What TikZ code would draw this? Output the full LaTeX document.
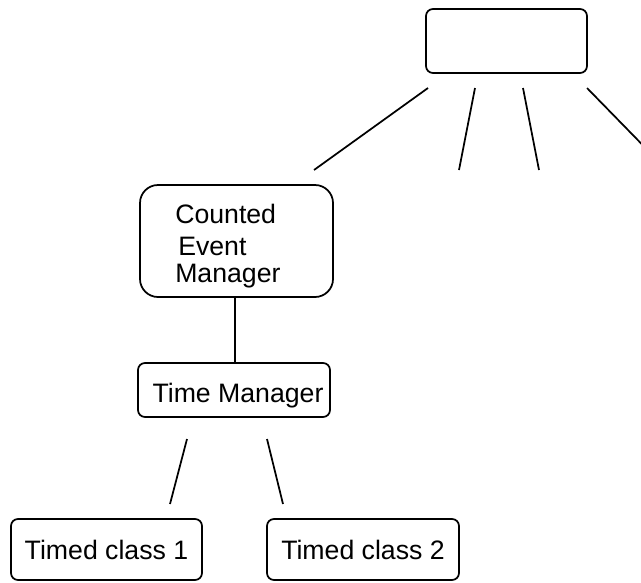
\documentclass[tikz,border=0pt]{standalone}
\usepackage{fontspec}
\setmainfont{Liberation Sans}
\begin{document}
\begin{tikzpicture}[x=0.75pt,y=-0.75pt,
  box/.style={draw=black,line width=1.3pt,rounded corners=5.25pt,inner sep=0pt,
    text height=14.3pt,text depth=0pt,font=\fontsize{20}{24}\selectfont},
  label/.style={inner sep=0pt,anchor=base west,font=\fontsize{20}{24}\selectfont},
  link/.style={line width=1.3pt,line cap=butt}]
\useasboundingbox (0,0) rectangle (641,582);
\clip (0,0) rectangle (641,582);

% boxes
\node[box,minimum width=161*0.75pt,minimum height=64*0.75pt] (top) at (506.5,41) {};
\node[box,rounded corners=13.5pt,minimum width=193*0.75pt,minimum height=112*0.75pt] (cem) at (236.5,241) {};
\node[label] (cemA) at (175,223) {Counted};
\node[label] (cemB) at (178,255) {Event};
\node[label] (cemC) at (175,282) {Manager};
\node[box,minimum width=192*0.75pt,minimum height=54*0.75pt] (tm) at (234,390) {};
\node[inner sep=0pt,text height=14.3pt,text depth=0pt,font=\fontsize{20}{24}\selectfont] (tmt) at (238,392.5) {Time Manager};
\node[box,minimum width=191*0.75pt,minimum height=61*0.75pt] (tc1) at (106.5,549.5) {Timed class 1};
\node[box,minimum width=192*0.75pt,minimum height=61*0.75pt] (tc2) at (363,549.5) {Timed class 2};

% free ends of the connectors
\coordinate (a1) at (428,88);  \coordinate (b1) at (314,170);
\coordinate (a2) at (475,88);  \coordinate (b2) at (459,170);
\coordinate (a3) at (523,88);  \coordinate (b3) at (539,170);
\coordinate (a4) at (587,88);  \coordinate (b4) at (668,171);
\coordinate (c1) at (187,439); \coordinate (d1) at (170,504);
\coordinate (c2) at (267,439); \coordinate (d2) at (283,504);

% connectors
\draw[link] (a1) -- (b1);
\draw[link] (a2) -- (b2);
\draw[link] (a3) -- (b3);
\draw[link] (a4) -- (b4);
\draw[link] (cem.south -| 235,0) -- (tm.north -| 235,0);
\draw[link] (c1) -- (d1);
\draw[link] (c2) -- (d2);
\end{tikzpicture}
\end{document}
